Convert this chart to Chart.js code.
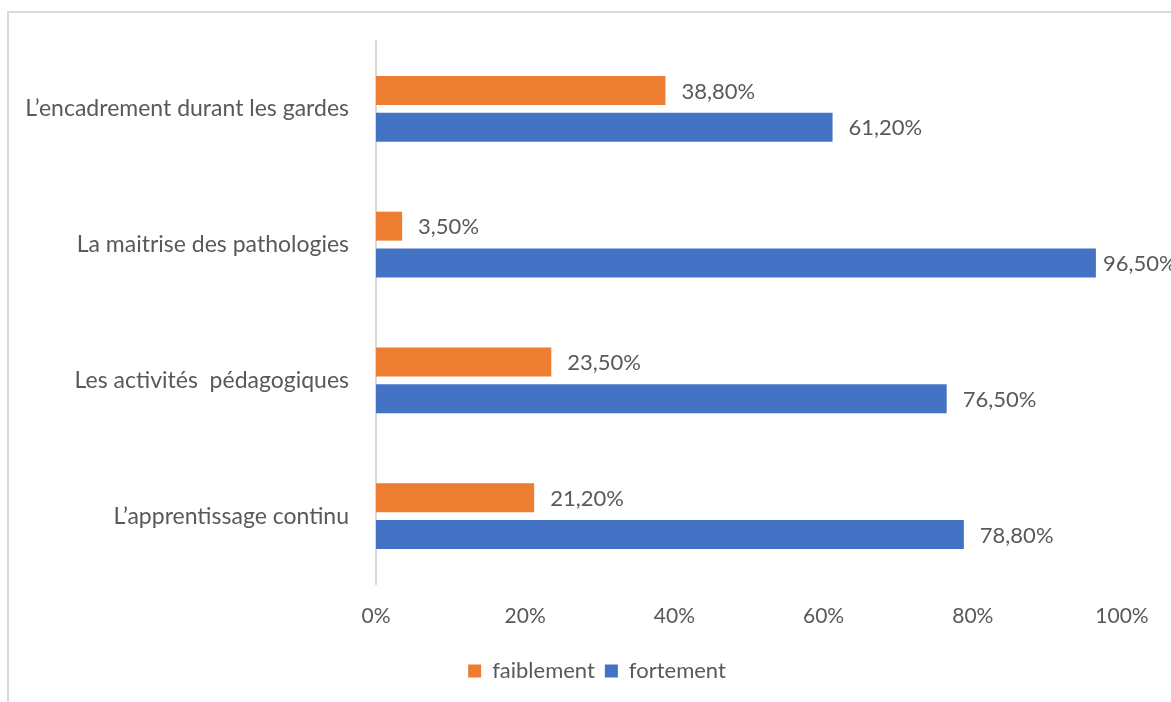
<!DOCTYPE html>
<html>
<head>
<meta charset="utf-8">
<script src="https://cdn.jsdelivr.net/npm/chart.js@4.4.1/dist/chart.umd.min.js"></script>
<style>
  html, body { margin: 0; padding: 0; background: #fff; overflow: hidden; }
  #frame { position: absolute; left: 7px; top: 11px; width: 1250px; height: 800px; border: 2px solid #D9D9D9; box-sizing: border-box; }
  #wrap { position: absolute; left: 0; top: 0; width: 1171px; height: 702px; }
</style>
</head>
<body>
<div id="frame"></div>
<div id="wrap"><canvas id="c" width="1171" height="702"></canvas></div>
<script>
const categories = [
  "L\u2019encadrement durant les gardes",
  "La maitrise des pathologies",
  "Les activit\u00e9s  p\u00e9dagogiques",
  "L\u2019apprentissage continu"
];
const seriesNames = ["faiblement", "fortement"];
const faiblement = [38.8, 3.5, 23.5, 21.2];
const fortement = [61.2, 96.5, 76.5, 78.8];
const xTicks = [0, 20, 40, 60, 80, 100];

const FONT = "Lato, 'Liberation Sans', sans-serif";
const TXT = "#595959";

const valueLabels = {
  id: "valueLabels",
  afterDatasetsDraw(chart) {
    const ctx = chart.ctx;
    ctx.save();
    ctx.font = "22px " + FONT;
    ctx.fillStyle = TXT;
    ctx.textAlign = "left";
    ctx.textBaseline = "middle";
    chart.data.datasets.forEach((ds, di) => {
      const meta = chart.getDatasetMeta(di);
      meta.data.forEach((el, i) => {
        const v = ds.data[i];
        const s = v.toFixed(2).replace(".", ",") + "%";
        const x = Math.min(el.x + 16, chart.chartArea.right - 19);
        ctx.fillText(s, x, el.y + 1);
      });
    });
    ctx.restore();
  }
};

const legendShift = {
  id: "legendShift",
  afterLayout(chart) {
    if (chart.legend) {
      chart.legend.left += 36;
      chart.legend.right += 36;
    }
  }
};

new Chart(document.getElementById("c"), {
  type: "bar",
  data: {
    labels: categories,
    datasets: [
      { label: seriesNames[0], data: faiblement, backgroundColor: "#ED7D31", borderWidth: 0,
        categoryPercentage: 0.544, barPercentage: 0.784 },
      { label: seriesNames[1], data: fortement, backgroundColor: "#4472C4", borderWidth: 0,
        categoryPercentage: 0.544, barPercentage: 0.784 }
    ]
  },
  options: {
    indexAxis: "y",
    responsive: false,
    animation: false,
    devicePixelRatio: 1,
    layout: { padding: { top: 41, right: 49, bottom: 10, left: 0 } },
    scales: {
      x: {
        min: 0, max: 100,
        afterBuildTicks(scale) { scale.ticks = xTicks.map(v => ({ value: v })); },
        afterFit(scale) { scale.height = 66; },
        grid: { display: false, drawTicks: false },
        border: { display: false },
        ticks: {
          padding: 20,
          color: TXT,
          font: { family: FONT, size: 21 },
          callback: v => v + "%"
        }
      },
      y: {
        afterFit(scale) { scale.width = 376; },
        grid: { display: false, drawTicks: false },
        border: { display: true, color: "#D9D9D9", width: 2 },
        ticks: {
          padding: 27,
          color: TXT,
          font: { family: FONT, size: 23 }
        }
      }
    },
    plugins: {
      legend: {
        position: "bottom",
        labels: {
          boxWidth: 13, boxHeight: 13,
          color: TXT,
          font: { family: FONT, size: 22 },
          padding: 10
        }
      },
      tooltip: { enabled: false }
    }
  },
  plugins: [valueLabels, legendShift]
});
</script>
</body>
</html>
